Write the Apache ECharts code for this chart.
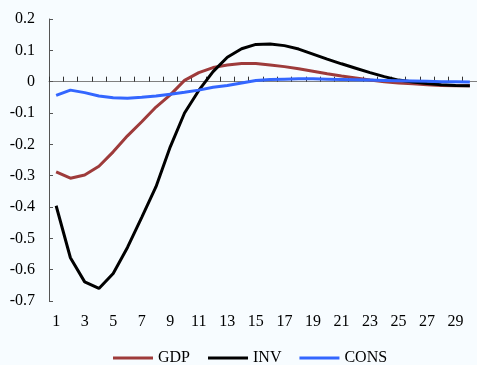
<!DOCTYPE html>
<html>
<head>
<meta charset="utf-8">
<script src="https://cdn.jsdelivr.net/npm/echarts@6/dist/echarts.min.js"></script>
<style>
html,body{margin:0;padding:0;background:#f7fcff;}
#chart{width:477px;height:365px;}
</style>
</head>
<body>
<div id="chart"></div>
<script>
const categories = Array.from({length: 30}, (_, i) => String(i + 1));
const gdp = [-0.288, -0.308, -0.298, -0.270, -0.224, -0.173, -0.128, -0.081, -0.042, 0.004,
             0.029, 0.045, 0.053, 0.058, 0.058, 0.053, 0.048, 0.041, 0.033, 0.025,
             0.018, 0.012, 0.005, 0.000, -0.004, -0.007, -0.010, -0.012, -0.013, -0.013];
const inv = [-0.396, -0.562, -0.639, -0.660, -0.612, -0.529, -0.433, -0.335, -0.208, -0.100,
             -0.028, 0.032, 0.078, 0.105, 0.119, 0.120, 0.115, 0.104, 0.088, 0.072,
             0.057, 0.043, 0.029, 0.016, 0.005, -0.001, -0.006, -0.010, -0.012, -0.013];
const cons = [-0.044, -0.027, -0.035, -0.046, -0.051, -0.053, -0.050, -0.046, -0.040, -0.034,
              -0.027, -0.018, -0.012, -0.004, 0.004, 0.007, 0.008, 0.009, 0.009, 0.008,
              0.007, 0.006, 0.005, 0.004, 0.003, 0.002, 0.001, 0.000, 0.000, -0.001];

const font = 'Liberation Serif';
const chart = echarts.init(document.getElementById('chart'));
chart.setOption({
  backgroundColor: '#f7fcff',
  animation: false,
  grid: {left: 49, right: -1.5, top: 19, bottom: 64},
  legend: {
    left: 108, top: 345,
    itemWidth: 40, itemHeight: 3, itemGap: 18,
    icon: 'rect',
    textStyle: {fontFamily: font, fontSize: 16, color: '#000'},
    data: ['GDP', 'INV', 'CONS']
  },
  xAxis: [
    {
      type: 'category', data: categories, position: 'bottom',
      axisLine: {show: false, onZero: false},
      axisTick: {show: false},
      axisLabel: {interval: 1, margin: 13, fontFamily: font, fontSize: 16, color: '#000'},
      splitLine: {show: false}
    },
    {
      type: 'category', data: categories, position: 'top',
      axisLine: {show: true, onZero: true, lineStyle: {color: '#808080', width: 1}},
      axisTick: {show: true, length: 5, interval: 0, lineStyle: {color: '#333'}},
      axisLabel: {show: false},
      splitLine: {show: false}
    }
  ],
  yAxis: {
    type: 'value', min: -0.7, max: 0.2, interval: 0.1,
    axisLine: {show: true, lineStyle: {color: '#555', width: 1}},
    axisTick: {show: true, inside: true, length: 4, lineStyle: {color: '#555'}},
    axisLabel: {
      margin: 14, fontFamily: font, fontSize: 16, color: '#000',
      formatter: v => { const r = Math.round(v * 10) / 10; return r === 0 ? '0' : r.toFixed(1); }
    },
    splitLine: {show: false}
  },
  series: [
    {name: 'GDP', type: 'line', xAxisIndex: 0, data: gdp, showSymbol: false, symbol: 'none',
     lineStyle: {color: '#9e3b3b', width: 3}, itemStyle: {color: '#9e3b3b'}},
    {name: 'INV', type: 'line', xAxisIndex: 0, data: inv, showSymbol: false, symbol: 'none',
     lineStyle: {color: '#000000', width: 3}, itemStyle: {color: '#000000'}},
    {name: 'CONS', type: 'line', xAxisIndex: 0, data: cons, showSymbol: false, symbol: 'none',
     lineStyle: {color: '#3366ff', width: 3}, itemStyle: {color: '#3366ff'}}
  ]
});
</script>
</body>
</html>
